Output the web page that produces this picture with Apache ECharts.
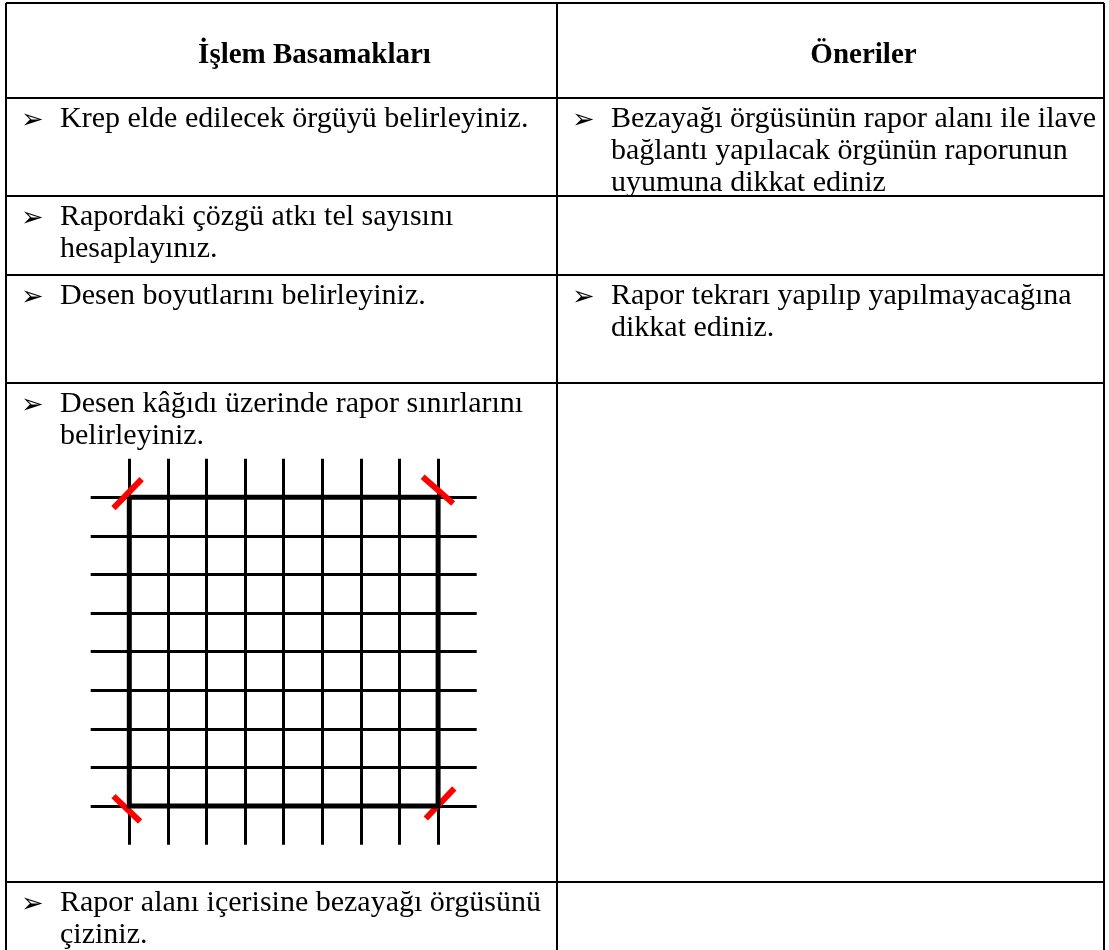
<!DOCTYPE html>
<html>
<head>
<meta charset="utf-8">
<script src="https://cdn.jsdelivr.net/npm/echarts/dist/echarts.min.js"></script>
<style>
  html, body { margin: 0; padding: 0; background: #fff; }
</style>
</head>
<body>
<div id="chart_table" style="width:1109px; height:950px"></div>
<script>
// table content
var headers = ["İşlem Basamakları", "Öneriler"];
var steps = [
  ["Krep elde edilecek örgüyü belirleyiniz."],
  ["Rapordaki çözgü atkı tel sayısını", "hesaplayınız."],
  ["Desen boyutlarını belirleyiniz."],
  ["Desen kâğıdı üzerinde rapor sınırlarını", "belirleyiniz."],
  ["Rapor alanı içerisine bezayağı örgüsünü", "çiziniz."]
];
var tips = [
  ["Bezayağı örgüsünün rapor alanı ile ilave", "bağlantı yapılacak örgünün raporunun", "uyumuna dikkat ediniz"],
  [],
  ["Rapor tekrarı yapılıp yapılmayacağına", "dikkat ediniz."],
  [],
  []
];
// table rules (page units)
var rowEdges = [3, 98, 196, 275, 383, 882];
var colEdges = [6, 557, 1104];
var tableBottom = 952;

// weave drawing: 8x8 report, grid lines on -1..9
var weaveMin = -1;
var weaveMax = 9;
var reportBox = [[0, 0], [8, 0], [8, 8], [0, 8], [0, 0]];
var cornerMarks = [
  [[-0.41, 0.28], [0.32, -0.47]],
  [[7.6, -0.53], [8.39, 0.16]],
  [[-0.41, 7.74], [0.28, 8.4]],
  [[7.68, 8.32], [8.42, 7.54]]
];

var myChart = echarts.init(document.getElementById("chart_table"));

var ruleData = [];
rowEdges.forEach(function(y) {
  ruleData.push({ coords: [[colEdges[0], y], [colEdges[colEdges.length - 1], y]] });
});
colEdges.forEach(function(x) {
  ruleData.push({ coords: [[x, rowEdges[0]], [x, tableBottom]] });
});

var bodyFont = '30px "Liberation Serif", "Times New Roman", serif';
var texts = [];
headers.forEach(function(h, c) {
  texts.push({
    type: "text",
    style: {
      text: h,
      x: (colEdges[c] + colEdges[c + 1]) / 2 + 33,
      y: 56,
      fill: "#000",
      font: 'bold 29px "Liberation Serif", "Times New Roman", serif',
      align: "center",
      verticalAlign: "middle"
    }
  });
});
[steps, tips].forEach(function(col, c) {
  col.forEach(function(lines, r) {
    lines.forEach(function(t, j) {
      var y = rowEdges[r + 1] + 21 + j * 32;
      if (j === 0) {
        texts.push({
          type: "text",
          style: {
            text: "➢",
            x: colEdges[c] + 15,
            y: y + 2,
            fill: "#000",
            font: '27px "DejaVu Sans"',
            align: "left",
            verticalAlign: "middle"
          }
        });
      }
      texts.push({
        type: "text",
        style: {
          text: t,
          x: colEdges[c] + 54,
          y: y,
          fill: "#000",
          font: bodyFont,
          align: "left",
          verticalAlign: "middle"
        }
      });
    });
  });
});

var hiddenAxis = {
  axisLine: { show: false },
  axisTick: { show: false },
  axisLabel: { show: false }
};

myChart.setOption({
  animation: false,
  grid: [
    { left: 0, top: 0, width: 1109, height: 950 },
    { left: 90.7, top: 458.7, width: 386, height: 386 }
  ],
  xAxis: [
    Object.assign({ type: "value", gridIndex: 0, min: 0, max: 1109, splitLine: { show: false } }, hiddenAxis),
    Object.assign({
      type: "value", gridIndex: 1, min: weaveMin, max: weaveMax, interval: 1,
      splitLine: { show: true, showMinLine: false, showMaxLine: false, lineStyle: { color: "#000", width: 3 } }
    }, hiddenAxis)
  ],
  yAxis: [
    Object.assign({ type: "value", gridIndex: 0, min: 0, max: 950, inverse: true, splitLine: { show: false } }, hiddenAxis),
    Object.assign({
      type: "value", gridIndex: 1, min: weaveMin, max: weaveMax, interval: 1, inverse: true,
      splitLine: { show: true, showMinLine: false, showMaxLine: false, lineStyle: { color: "#000", width: 3 } }
    }, hiddenAxis)
  ],
  graphic: texts,
  series: [
    {
      type: "lines",
      coordinateSystem: "cartesian2d",
      xAxisIndex: 0,
      yAxisIndex: 0,
      lineStyle: { color: "#000", width: 2, opacity: 1, curveness: 0 },
      data: ruleData
    },
    {
      type: "line",
      xAxisIndex: 1,
      yAxisIndex: 1,
      symbol: "none",
      lineStyle: { color: "#000", width: 5, join: "miter" },
      data: reportBox
    },
    {
      type: "lines",
      coordinateSystem: "cartesian2d",
      xAxisIndex: 1,
      yAxisIndex: 1,
      lineStyle: { color: "#ff0000", width: 6, opacity: 1, curveness: 0 },
      data: cornerMarks.map(function(m) { return { coords: m }; })
    }
  ]
});
</script>
</body>
</html>
